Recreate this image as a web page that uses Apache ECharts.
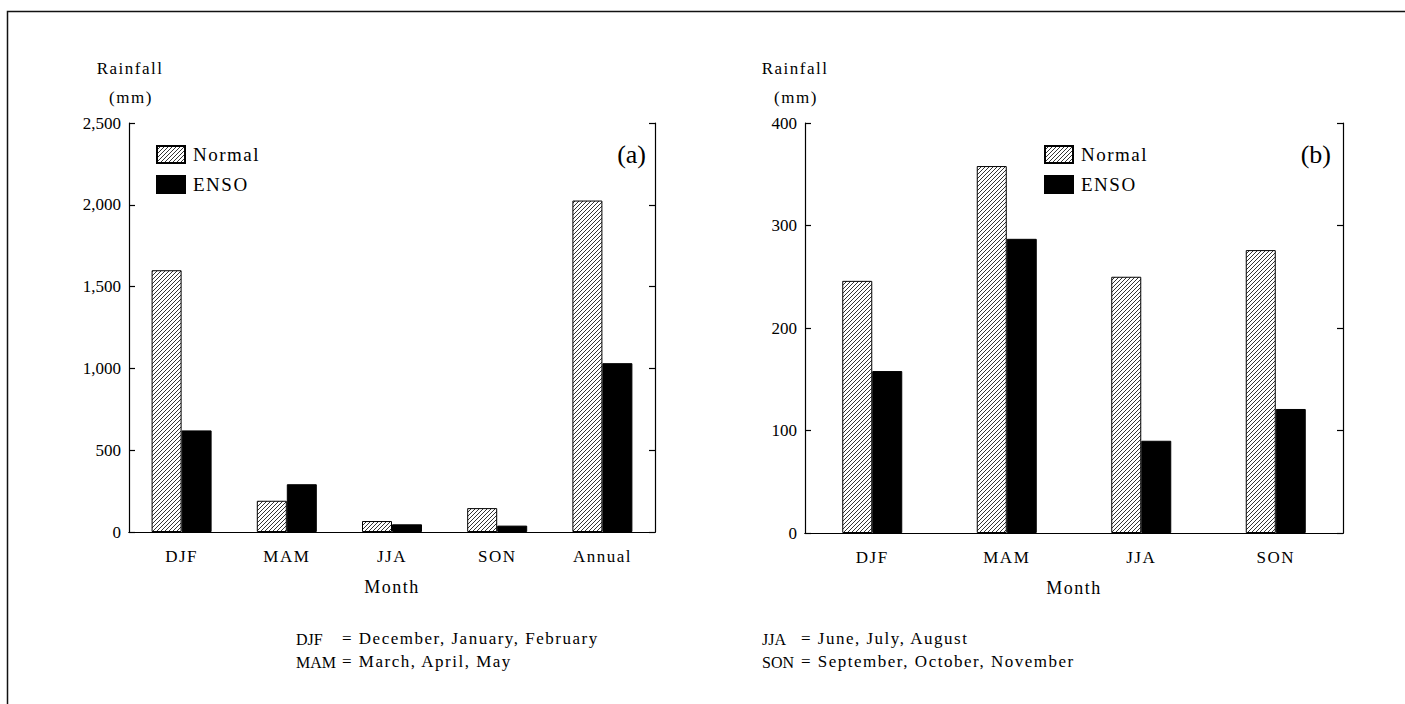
<!DOCTYPE html>
<html><head><meta charset="utf-8">
<script src="https://cdn.jsdelivr.net/npm/echarts@6/dist/echarts.min.js"></script>
<style>
html,body{margin:0;padding:0;background:#fff;}
#chart{width:1405px;height:704px;}
#chart text[style*="Times New Roman"], #chart text[font-family*="Times New Roman"]{letter-spacing:1.5px;}
</style></head><body><div id="chart"></div>
<script>
// ---- data ----
const seasonsA = ['DJF', 'MAM', 'JJA', 'SON', 'Annual'];
const normalA = [1600, 191, 67, 146, 2026];
const ensoA = [621, 292, 47, 39, 1032];
const seasonsB = ['DJF', 'MAM', 'JJA', 'SON'];
const normalB = [246, 358, 250, 276];
const ensoB = [158, 287, 90, 121];
const yRangeA = [0, 2500, 500];
const yRangeB = [0, 400, 100];
const seriesNames = ['Normal', 'ENSO'];
const footnotes = [
  ['DJF', '= December, January, February'],
  ['MAM', '= March, April, May'],
  ['JJA', '= June, July, August'],
  ['SON', '= September, October, November']
];

const FONT = '"Liberation Serif", serif';                       // plain
const FONT_SP = '"Liberation Serif", "Times New Roman", serif';  // letter-spaced via CSS

function hatch() {
  const c = document.createElement('canvas');
  c.width = 4; c.height = 4;
  const g = c.getContext('2d');
  g.fillStyle = '#fff'; g.fillRect(0, 0, 4, 4);
  g.strokeStyle = '#000'; g.lineWidth = 0.8;
  g.beginPath();
  g.moveTo(-1, 1); g.lineTo(1, -1);
  g.moveTo(-1, 5); g.lineTo(5, -1);
  g.moveTo(3, 5); g.lineTo(5, 3);
  g.stroke();
  return c;
}
const hatchPattern = { image: hatch(), repeat: 'repeat', imageWidth: 4, imageHeight: 4 };

const lineS = { color: '#000', width: 1.2 };
function xAxes(grid, cats) {
  return [
    { type: 'category', gridIndex: grid, data: cats, position: 'bottom',
      axisLine: { lineStyle: lineS }, axisTick: { inside: true, length: 6, lineStyle: lineS },
      axisLabel: { fontFamily: FONT_SP, fontSize: 17, color: '#000', margin: 16 },
      name: 'Month', nameLocation: 'middle', nameGap: 46,
      nameTextStyle: { fontFamily: FONT_SP, fontSize: 18, color: '#000' } },
    { type: 'category', gridIndex: grid, data: cats, position: 'top',
      axisLine: { lineStyle: lineS }, axisTick: { inside: true, length: 6, lineStyle: lineS },
      axisLabel: { show: false } }
  ];
}
function yAxes(grid, r) {
  return [
    { type: 'value', gridIndex: grid, min: r[0], max: r[1], interval: r[2], position: 'left',
      axisLine: { show: true, lineStyle: lineS }, axisTick: { show: true, inside: true, length: 6, lineStyle: lineS },
      splitLine: { show: false },
      axisLabel: { fontFamily: FONT, fontSize: 17, color: '#000', margin: 8,
        formatter: v => v.toLocaleString('en-US') } },
    { type: 'value', gridIndex: grid, min: r[0], max: r[1], interval: r[2], position: 'right',
      axisLine: { show: true, lineStyle: lineS }, axisTick: { show: true, inside: true, length: 6, lineStyle: lineS },
      splitLine: { show: false }, axisLabel: { show: false } }
  ];
}
function barSeries(xi, yi, normal, enso) {
  return [
    { name: seriesNames[0], type: 'bar', xAxisIndex: xi, yAxisIndex: yi, data: normal,
      barWidth: 30, barGap: '0%',
      itemStyle: { color: hatchPattern, borderColor: '#000', borderWidth: 1 } },
    { name: seriesNames[1], type: 'bar', xAxisIndex: xi, yAxisIndex: yi, data: enso,
      barWidth: 30, barGap: '0%',
      itemStyle: { color: '#000', borderColor: '#000', borderWidth: 1 } }
  ];
}
function legend(left) {
  return { left: left, top: 140, orient: 'vertical', itemWidth: 28, itemHeight: 17, itemGap: 11,
    icon: 'rect', selectedMode: false, data: seriesNames,
    textStyle: { fontFamily: FONT_SP, fontSize: 19, color: '#000', padding: [0, 0, 0, 3] } };
}

const chart = echarts.init(document.getElementById('chart'), null, { renderer: 'svg' });
function t(x, y, s, size, align, font) {
  return { type: 'text', x: x, y: y, style: { text: s, fontFamily: font || FONT_SP, fontSize: size, fill: '#000', align: align || 'left' } };
}
const graphics = [
  { type: 'rect', shape: { x: 7.5, y: 11.5, width: 1420, height: 720 }, style: { fill: 'none', stroke: '#111', lineWidth: 1.5 }, silent: true },
  t(130, 60, 'Rainfall', 17, 'center'),
  t(131, 89, '(mm)', 17, 'center'),
  t(795, 60, 'Rainfall', 17, 'center'),
  t(796, 89, '(mm)', 17, 'center'),
  t(646, 141, '(a)', 26, 'right', FONT),
  t(1331, 141, '(b)', 26, 'right', FONT)
];
const fnPos = [[296, 342, 630], [296, 342, 653], [762, 801, 630], [762, 801, 653]];
footnotes.forEach((f, i) => {
  const p = fnPos[i];
  graphics.push(t(p[0], p[2] + 1, f[0], 16, 'left', FONT));
  graphics.push(t(p[1], p[2], f[1], 17, 'left', FONT_SP));
});

chart.setOption({
  animation: false,
  backgroundColor: '#fff',
  grid: [
    { left: 129, right: 750, top: 123, bottom: 172 },
    { left: 805, right: 62, top: 123, bottom: 171 }
  ],
  xAxis: [...xAxes(0, seasonsA), ...xAxes(1, seasonsB)],
  yAxis: [...yAxes(0, yRangeA), ...yAxes(1, yRangeB)],
  legend: [legend(151), legend(1039)],
  series: [...barSeries(0, 0, normalA, ensoA), ...barSeries(2, 2, normalB, ensoB)],
  graphic: graphics
});
</script></body></html>
